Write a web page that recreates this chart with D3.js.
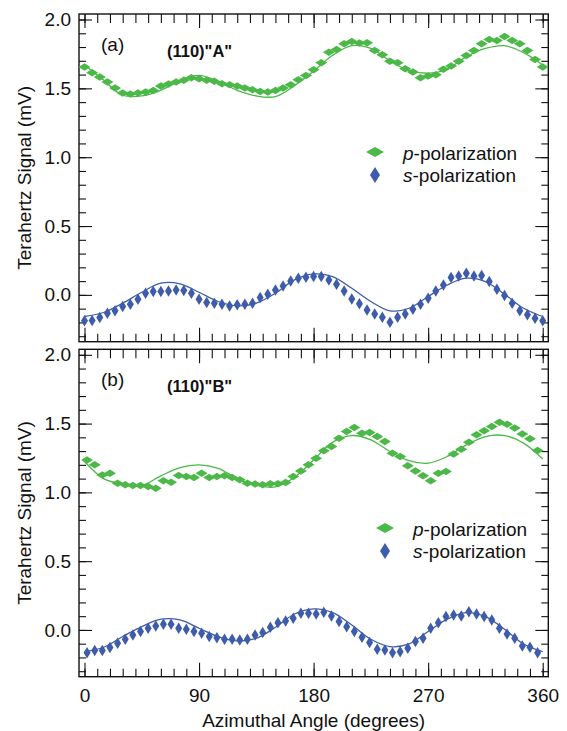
<!DOCTYPE html>
<html>
<head>
<meta charset="utf-8">
<script src="https://cdn.jsdelivr.net/npm/d3@7"></script>
<style>
  html, body { margin: 0; padding: 0; background: #fff; }
  svg { display: block; }
  text { font-family: "Liberation Sans", Arial, Helvetica, sans-serif; fill: #111; }
</style>
</head>
<body>
<svg id="chart" width="567" height="731"></svg>
<script>
// Azimuthal angle grid of the measurements (degrees)
const anglesA = d3.range(0, 361, 6);      // panel (a): 0..360
const anglesB = d3.range(2, 357, 6);      // panel (b): 2..356
const fitAngles = d3.range(0, 361, 15);   // sampling of the fitted curves

// Panel (a) (110)"A": measured THz signal (mV)
const pA_values = [1.655, 1.614, 1.582, 1.546, 1.502, 1.466, 1.459, 1.466, 1.473, 1.485,
  1.517, 1.531, 1.546, 1.558, 1.577, 1.570, 1.558, 1.551, 1.534, 1.527,
  1.517, 1.502, 1.490, 1.478, 1.473, 1.485, 1.502, 1.527, 1.563, 1.594,
  1.635, 1.686, 1.763, 1.783, 1.824, 1.841, 1.829, 1.831, 1.775, 1.744,
  1.696, 1.686, 1.642, 1.618, 1.577, 1.589, 1.599, 1.638, 1.662, 1.696,
  1.739, 1.775, 1.824, 1.855, 1.848, 1.877, 1.848, 1.824, 1.775, 1.710, 1.655];
const sA_values = [-0.188, -0.186, -0.164, -0.133, -0.116, -0.085, -0.068, -0.031, 0.012, 0.024,
  0.024, 0.029, 0.036, 0.031, 0.012, -0.031, -0.056, -0.060, -0.068, -0.080,
  -0.072, -0.068, -0.060, -0.019, 0.005, 0.036, 0.065, 0.101, 0.121, 0.128,
  0.133, 0.133, 0.109, 0.077, 0.029, -0.029, -0.065, -0.109, -0.138, -0.162,
  -0.198, -0.162, -0.138, -0.104, -0.068, -0.024, 0.029, 0.072, 0.126, 0.138,
  0.157, 0.138, 0.140, 0.097, 0.041, -0.005, -0.060, -0.116, -0.145, -0.169, -0.188];
const pA_fit = [1.67, 1.56, 1.45, 1.445, 1.486, 1.558, 1.594, 1.55, 1.486, 1.445, 1.44, 1.52, 1.625,
  1.74, 1.81, 1.79, 1.70, 1.63, 1.61, 1.64, 1.73, 1.79, 1.81, 1.76, 1.67];
const sA_fit = [-0.157, -0.128, -0.060, 0.019, 0.085, 0.080, 0.019, -0.048, -0.080, -0.060, 0.012, 0.109, 0.152,
  0.133, 0.048, -0.048, -0.116, -0.097, -0.012, 0.072, 0.121, 0.097, 0.005, -0.097, -0.157];

// Panel (b) (110)"B": measured THz signal (mV)
const pB_values = [1.236, 1.200, 1.127, 1.139, 1.067, 1.055, 1.050, 1.050, 1.042, 1.030,
  1.084, 1.074, 1.122, 1.115, 1.108, 1.139, 1.108, 1.115, 1.120, 1.108,
  1.091, 1.067, 1.060, 1.055, 1.062, 1.062, 1.072, 1.115, 1.156, 1.200,
  1.248, 1.302, 1.333, 1.394, 1.442, 1.472, 1.430, 1.435, 1.406, 1.370,
  1.285, 1.261, 1.193, 1.156, 1.120, 1.084, 1.139, 1.151, 1.278, 1.314,
  1.365, 1.418, 1.447, 1.479, 1.510, 1.496, 1.467, 1.425, 1.389, 1.305];
const sB_values = [-0.165, -0.150, -0.150, -0.128, -0.097, -0.068, -0.036, -0.012, 0.012, 0.029,
  0.041, 0.041, 0.012, 0.005, -0.012, -0.024, -0.048, -0.056, -0.068, -0.068,
  -0.073, -0.068, -0.036, -0.019, 0.019, 0.053, 0.065, 0.085, 0.121, 0.121,
  0.116, 0.128, 0.102, 0.061, 0.024, -0.012, -0.053, -0.092, -0.141, -0.145,
  -0.165, -0.158, -0.133, -0.085, -0.061, 0.012, 0.053, 0.097, 0.109, 0.102,
  0.133, 0.116, 0.097, 0.073, 0.012, -0.029, -0.061, -0.116, -0.126, -0.165];
const pB_fit = [1.224, 1.10, 1.06, 1.05, 1.12, 1.18, 1.20, 1.175, 1.10, 1.05, 1.04, 1.11, 1.236,
  1.365, 1.413, 1.382, 1.297, 1.23, 1.212, 1.261, 1.345, 1.406, 1.413, 1.358, 1.243];
const sB_fit = [-0.158, -0.126, -0.048, 0.024, 0.078, 0.073, 0.012, -0.048, -0.080, -0.061, 0.019, 0.116, 0.153,
  0.126, 0.036, -0.068, -0.121, -0.102, -0.012, 0.078, 0.126, 0.097, 0.005, -0.102, -0.158];

// Axis ticks
const xMajorTicks = [0, 90, 180, 270, 360];
const xMinorTicks = d3.range(0, 361, 10);
const yMajorTicks = [0, 0.5, 1.0, 1.5, 2.0];
const yMinorTicks = d3.range(-3, 21).map(d => d / 10);

const seriesLabels = ["p", "s"];
const panelLabels = ["(a)", "(b)"];
const sampleLabels = ['(110)"A"', '(110)"B"'];
const yTitle = "Terahertz Signal (mV)";
const xTitle = "Azimuthal Angle (degrees)";

const GREEN = "#4bb848";
const BLUE = "#3e5cab";

const svg = d3.select("#chart");
const frameLeft = 79, frameRight = 548.3;
const panels = [
  { top: 14, bottom: 341.7, ang: anglesA, p: pA_values, s: sA_values, pf: pA_fit, sf: sA_fit,
    label: panelLabels[0], sample: sampleLabels[0], legendX: 375, legendY: 152 },
  { top: 349.3, bottom: 676.7, ang: anglesB, p: pB_values, s: sB_values, pf: pB_fit, sf: sB_fit,
    label: panelLabels[1], sample: sampleLabels[1], legendX: 385, legendY: 528 }
];

const x = d3.scaleLinear().domain([0, 360]).range([84.5, 542.7]);

// Diamond marker path of given width and height
const diamond = (w, h) => `M${-w / 2},0L0,${-h / 2}L${w / 2},0L0,${h / 2}Z`;

panels.forEach((P, i) => {
  const y = d3.scaleLinear().domain([-0.34, 2.04]).range([P.bottom, P.top]);
  const g = svg.append("g");

  // tick marks, all pointing inward
  const tickGroup = (axis, tx, ty) => {
    const a = g.append("g").attr("transform", `translate(${tx},${ty})`).call(axis);
    a.select(".domain").remove();
    a.selectAll("line").attr("stroke", "#111").attr("stroke-width", 1.1);
    a.selectAll("text").remove();
  };
  tickGroup(d3.axisRight(y).tickValues(yMinorTicks).tickSize(7), frameLeft, 0);
  tickGroup(d3.axisRight(y).tickValues(yMajorTicks).tickSize(13), frameLeft, 0);
  tickGroup(d3.axisLeft(y).tickValues(yMinorTicks).tickSize(7), frameRight, 0);
  tickGroup(d3.axisLeft(y).tickValues(yMajorTicks).tickSize(13), frameRight, 0);
  tickGroup(d3.axisBottom(x).tickValues(xMinorTicks).tickSize(9), 0, P.top);
  tickGroup(d3.axisBottom(x).tickValues(xMajorTicks).tickSize(14), 0, P.top);
  tickGroup(d3.axisTop(x).tickValues(xMinorTicks).tickSize(8), 0, P.bottom);
  tickGroup(d3.axisTop(x).tickValues(xMajorTicks).tickSize(14), 0, P.bottom);

  // y tick labels
  const yl = g.append("g").attr("transform", `translate(${frameLeft},0)`)
    .call(d3.axisLeft(y).tickValues(yMajorTicks).tickSize(0).tickPadding(8).tickFormat(d3.format(".1f")));
  yl.select(".domain").remove();
  yl.selectAll("text").attr("font-size", 19).attr("fill", "#111")
    .style("font-family", '"Liberation Sans", Arial, sans-serif');

  // frame
  g.append("rect").attr("x", frameLeft).attr("y", P.top)
    .attr("width", frameRight - frameLeft).attr("height", P.bottom - P.top)
    .attr("fill", "none").attr("stroke", "#111").attr("stroke-width", 1.4);

  // fitted curves
  const fitLine = d3.line().x(d => x(d[0])).y(d => y(d[1])).curve(d3.curveCatmullRom.alpha(0.5));
  g.append("path").datum(fitAngles.map((a, k) => [a, P.pf[k]]))
    .attr("d", fitLine).attr("fill", "none").attr("stroke", GREEN).attr("stroke-width", 1.3);
  g.append("path").datum(fitAngles.map((a, k) => [a, P.sf[k]]))
    .attr("d", fitLine).attr("fill", "none").attr("stroke", BLUE).attr("stroke-width", 1.3);

  // measured points
  g.append("g").selectAll("path").data(P.ang.map((a, k) => [a, P.p[k]])).join("path")
    .attr("transform", d => `translate(${x(d[0])},${y(d[1])})`)
    .attr("d", diamond(12, 7.5)).attr("fill", GREEN);
  g.append("g").selectAll("path").data(P.ang.map((a, k) => [a, P.s[k]])).join("path")
    .attr("transform", d => `translate(${x(d[0])},${y(d[1])})`)
    .attr("d", diamond(7, 11.5)).attr("fill", BLUE);

  // panel labels
  g.append("text").attr("x", 101).attr("y", P.top + 37).attr("font-size", 19).text(P.label);
  g.append("text").attr("x", 167).attr("y", P.top + 42.5).attr("font-size", 16.5)
    .attr("font-weight", "bold").text(P.sample);

  // legend
  const lg = g.append("g").attr("transform", `translate(${P.legendX},${P.legendY})`);
  lg.append("path").attr("d", diamond(18, 10)).attr("fill", GREEN);
  lg.append("path").attr("transform", "translate(0,23)").attr("d", diamond(10, 16)).attr("fill", BLUE);
  const lt1 = lg.append("text").attr("x", 28).attr("y", 8.3).attr("font-size", 19);
  lt1.append("tspan").attr("font-style", "italic").text(seriesLabels[0]);
  lt1.append("tspan").text("-polarization");
  const lt2 = lg.append("text").attr("x", 28).attr("y", 30).attr("font-size", 19);
  lt2.append("tspan").attr("font-style", "italic").text(seriesLabels[1]);
  lt2.append("tspan").text("-polarization");

  // y-axis title
  g.append("text")
    .attr("transform", `translate(31,${(P.top + P.bottom) / 2}) rotate(-90)`)
    .attr("text-anchor", "middle").attr("font-size", 19).text(yTitle);

  // x tick labels on the lower panel only
  if (i === 1) {
    const xl = g.append("g").attr("transform", `translate(0,${P.bottom})`)
      .call(d3.axisBottom(x).tickValues(xMajorTicks).tickSize(0).tickPadding(12).tickFormat(d3.format("d")));
    xl.select(".domain").remove();
    xl.selectAll("text").attr("font-size", 19).attr("fill", "#111")
      .style("font-family", '"Liberation Sans", Arial, sans-serif');
  }
});

svg.append("text").attr("x", 313.6).attr("y", 727).attr("text-anchor", "middle")
  .attr("font-size", 19).text(xTitle);
</script>
</body>
</html>
